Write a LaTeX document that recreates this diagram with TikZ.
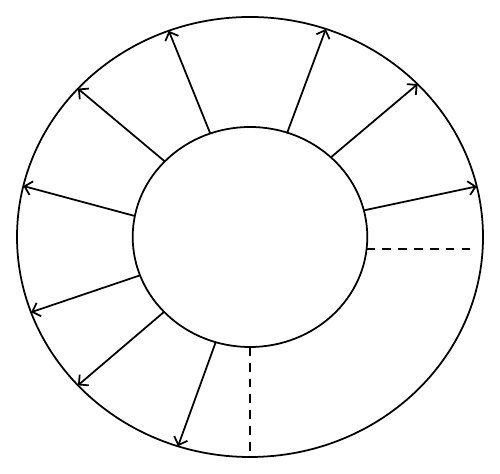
\documentclass[tikz,border=0pt]{standalone}
\usetikzlibrary{arrows.meta}
\begin{document}
\begin{tikzpicture}[line width=1pt,
  ray/.style={-{Straight Barb[length=4pt,width=8pt]}},
  cut/.style={dash pattern=on 5pt off 4pt}]
\useasboundingbox (0,0) rectangle (10,9.48);
\coordinate (c) at (5,4.74);

% Outer and inner boundaries
\draw (c) ellipse [x radius=4.66, y radius=4.4];
\draw (c) ellipse [x radius=2.346, y radius=2.2];

% Radial arrows (start angle / end angle)
\foreach \a/\b in {14/13.3,46.4/44,71.5/71,109.8/110.4,136.6/137.6,169/166.6,200.4/200,222.9/222.4,253/252}
  \draw[ray] ([shift={(\a:2.346 and 2.2)}]c) -- ([shift={(\b:4.66 and 4.4)}]c);

% Dashed cuts
\coordinate (h1) at (7.332,4.494);
\coordinate (h2) at (9.5,4.494);
\coordinate (v1) at ([shift={(-90:2.346 and 2.2)}]c);
\coordinate (v2) at ([shift={(-90:4.66 and 4.4)}]c);
\draw[cut] (h1) -- (h2);
\draw[cut] (v1) -- (v2);

\end{tikzpicture}
\end{document}
